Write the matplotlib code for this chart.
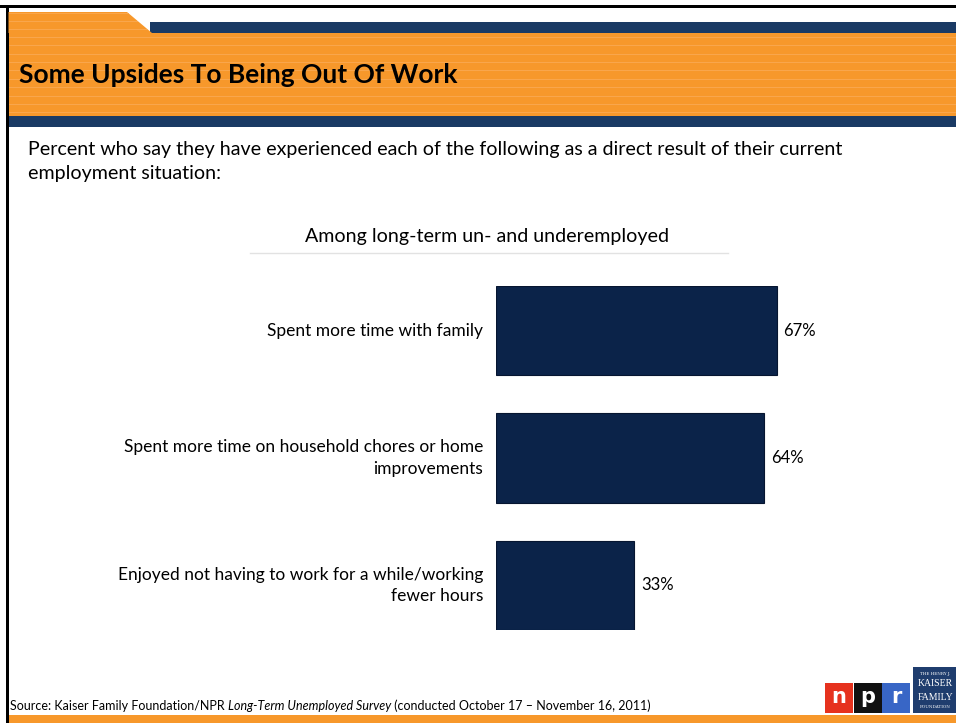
import matplotlib.pyplot as plt
from matplotlib.patches import Rectangle, Polygon

categories = ["Spent more time with family",
              "Spent more time on household chores or home\nimprovements",
              "Enjoyed not having to work for a while/working\nfewer hours"]
values = [67, 64, 33]
value_labels = ["67%", "64%", "33%"]

W, H = 956, 723
FONT = "Lato"
NAVY = "#1a3a64"
ORANGE = "#f7982b"
BAR = "#0b2349"

fig = plt.figure(figsize=(W / 100, H / 100), dpi=100)
fig.patch.set_facecolor("white")


def box(x0, y0, x1, y1, **kw):
    # pixel coords measured from the top
    fig.add_artist(Rectangle((x0 / W, 1 - y1 / H), (x1 - x0) / W, (y1 - y0) / H,
                             transform=fig.transFigure, **kw))


def txt(x, y, s, **kw):
    return fig.text(x / W, 1 - y / H, s, **kw)


# frame
box(0, 5, W, 7.5, color="black", lw=0)
box(6, 5, 8.5, H, color="black", lw=0)

# header
box(150, 22, W, 33, color=NAVY, lw=0)
fig.add_artist(Polygon([(8.5 / W, 1 - 12 / H), (127 / W, 1 - 12 / H), (152 / W, 1 - 33 / H),
                        (8.5 / W, 1 - 33 / H)], closed=True, transform=fig.transFigure,
                       color=ORANGE, lw=0))
box(8.5, 33, W, 116, color=ORANGE, lw=0)
for sy in [13.5, 21, 29, 37.7, 45.7, 54.3, 62.7, 70.7, 79.3, 87.7, 96, 104.3, 112.3]:
    x_end = W if sy > 33 else 127 + (sy - 12) * 25 / 21
    box(8.5, sy - 0.5, x_end, sy + 0.5, color="#f9a64c", lw=0)
box(8.5, 116, W, 127, color=NAVY, lw=0)
txt(19, 75, "Some Upsides To Being Out Of Work", fontsize=19, fontweight="bold",
    family=FONT, va="center", ha="left", color="black")

txt(28, 149, "Percent who say they have experienced each of the following as a direct result of their current",
    fontsize=14.15, family=FONT, va="center", ha="left")
txt(28, 173, "employment situation:", fontsize=14.15, family=FONT, va="center", ha="left")

txt(487, 237, "Among long-term un- and underemployed", fontsize=14.1, family=FONT,
    va="center", ha="center")
fig.add_artist(plt.Line2D([250 / W, 728 / W], [1 - 253 / H, 1 - 253 / H],
                          transform=fig.transFigure, color="#e2e2e2", lw=1))

# bars
ax = fig.add_axes([496 / W, 1 - 630 / H, 419 / W, 344 / H])
ypos = list(range(len(values)))
ax.barh(ypos, values, height=0.7, color=BAR, edgecolor="#061530", linewidth=0.8)
ax.set_xlim(0, 100)
ax.set_ylim(2.35, -0.35)
ax.axis("off")
for y, v, lab, cat in zip(ypos, values, value_labels, categories):
    ax.text(v + 1.6, y, lab, fontsize=12, family=FONT, va="center", ha="left")
    ax.text(-3.1, y, cat, fontsize=12.5, family=FONT, va="center", ha="right",
            multialignment="right", linespacing=1.4)

# source
SRC_Y = 706
t1 = txt(10, SRC_Y, "Source: Kaiser Family Foundation/NPR ", fontsize=9,
         family=FONT, va="center", ha="left")
rend = fig.canvas.get_renderer()
r1 = t1.get_window_extent(renderer=rend)
t2 = fig.text(r1.x1 / W, 1 - SRC_Y / H, "Long-Term Unemployed Survey", fontsize=9, family=FONT,
              style="italic", va="center", ha="left")
r2 = t2.get_window_extent(renderer=rend)
fig.text(r2.x1 / W, 1 - SRC_Y / H, " (conducted October 17 \u2013 November 16, 2011)", fontsize=9,
         family=FONT, va="center", ha="left")

# bottom band
box(8.5, 714.5, W, H, color=ORANGE, lw=0)

# npr logo
for i, (c, ch) in enumerate(zip(["#e6321e", "#111111", "#3866c6"], "npr")):
    box(825 + i * 28.5, 683, 825 + (i + 1) * 28.5 - 0.5, 713, color=c, lw=0)
    txt(825 + i * 28.5 + 14, 697, ch, fontsize=15, fontweight="bold", family="DejaVu Sans",
        color="white", ha="center", va="center")
# kaiser logo
box(913, 667, W, 713, color="#1f3d6e", lw=0)
txt(935, 674, "THE HENRY J.", fontsize=3, color="white", ha="center", va="center", family="DejaVu Serif")
txt(935, 684, "KAISER", fontsize=7, color="white", ha="center", va="center", family="Liberation Serif")
txt(935, 697, "FAMILY", fontsize=7, color="white", ha="center", va="center", family="Liberation Serif")
txt(935, 707, "FOUNDATION", fontsize=3, color="white", ha="center", va="center", family="DejaVu Serif")

fig.savefig("out.png", dpi=100)
